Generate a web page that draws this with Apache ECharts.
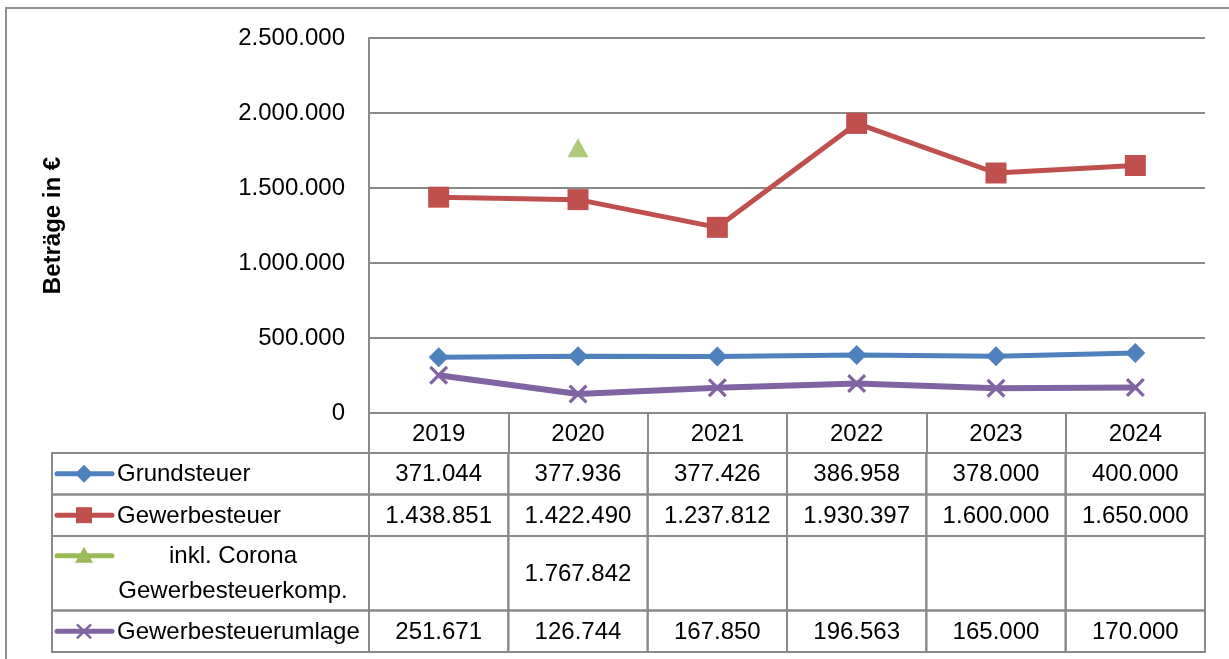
<!DOCTYPE html>
<html>
<head>
<meta charset="utf-8">
<script src="https://cdn.jsdelivr.net/npm/echarts@6/dist/echarts.min.js"></script>
<style>
  html, body { margin: 0; padding: 0; background: #fff; }
  #chart { width: 1229px; height: 659px; position: relative; }
  #frame { position: absolute; left: 5px; top: 7px; width: 1300px; height: 700px;
           border-top: 2px solid #8e8e8e; border-left: 2px solid #8e8e8e; pointer-events: none; }
</style>
</head>
<body>
<div id="chart"></div>
<div id="frame"></div>
<script>
// ---- data ----
const years = ['2019', '2020', '2021', '2022', '2023', '2024'];
const grundsteuer = [371044, 377936, 377426, 386958, 378000, 400000];
const gewerbesteuer = [1438851, 1422490, 1237812, 1930397, 1600000, 1650000];
const corona = [null, 1767842, null, null, null, null];
const umlage = [251671, 126744, 167850, 196563, 165000, 170000];
const yTickMin = 0, yTickMax = 2500000, yTickStep = 500000;
const seriesNames = ['Grundsteuer', 'Gewerbesteuer', 'inkl. Corona\nGewerbesteuerkomp.', 'Gewerbesteuerumlage'];
const yTitle = 'Beträge in €';

// ---- styles ----
const colors = ['#4F81BD', '#C0504D', '#9BBB59', '#8064A2'];
const gridCol = '#8a8a8a';
const FONT = '"Liberation Sans", Arial, sans-serif';
const FS = 24;
const rowSpan = [1, 1, 1.8, 1];
const rowStart = rowSpan.map((s, i) => rowSpan.slice(0, i).reduce((a, b) => a + b, 0));
const rowTotal = rowSpan.reduce((a, b) => a + b, 0);
const xPath = 'path://M0,1.2 L1.2,0 L5,3.8 L8.8,0 L10,1.2 L6.2,5 L10,8.8 L8.8,10 L5,6.2 L1.2,10 L0,8.8 L3.8,5 Z';

function fmt(v) {
  if (v === null || v === undefined) return '';
  return String(v).replace(/\B(?=(\d{3})+(?!\d))/g, '.');
}

const seriesValues = [grundsteuer, gewerbesteuer, corona, umlage];
const cells = [];
seriesValues.forEach((vals, r) => {
  vals.forEach((v, c) => cells.push({ value: [c, r], text: fmt(v) }));
});
const labelCells = seriesNames.map((n, r) => ({ value: [0, r], text: n }));

function markerShape(r, cx, cy, color) {
  const s = 9;
  if (r === 0) return { type: 'polygon', shape: { points: [[cx, cy - s], [cx + s, cy], [cx, cy + s], [cx - s, cy]] }, style: { fill: color } };
  if (r === 1) return { type: 'rect', shape: { x: cx - 8, y: cy - 8, width: 16, height: 16 }, style: { fill: color } };
  if (r === 2) return { type: 'polygon', shape: { points: [[cx, cy - 9], [cx + 9, cy + 7], [cx - 9, cy + 7]] }, style: { fill: color } };
  return { type: 'group', children: [
    { type: 'line', shape: { x1: cx - 7, y1: cy - 7, x2: cx + 7, y2: cy + 7 }, style: { stroke: color, lineWidth: 2.5 } },
    { type: 'line', shape: { x1: cx - 7, y1: cy + 7, x2: cx + 7, y2: cy - 7 }, style: { stroke: color, lineWidth: 2.5 } }
  ] };
}

const chart = echarts.init(document.getElementById('chart'));
chart.setOption({
  animation: false,
  backgroundColor: '#fff',
  textStyle: { fontFamily: FONT },
  grid: [
    { left: 369, right: 24, top: 38, bottom: 246 },
    { left: 369, right: 24, top: 453, bottom: 7 },
    { left: 52, width: 317, top: 453, bottom: 7 }
  ],
  xAxis: [
    {
      type: 'category', data: years, gridIndex: 0, boundaryGap: true,
      axisLine: { show: true, lineStyle: { color: gridCol, width: 2 } },
      axisTick: { show: true, interval: 0, length: 40, lineStyle: { color: gridCol, width: 2 } },
      axisLabel: { color: '#000', fontSize: FS, fontFamily: FONT, margin: 9, interval: 0 }
    },
    { type: 'category', data: years, gridIndex: 1, show: false },
    { type: 'value', min: 0, max: 1, gridIndex: 2, show: false }
  ],
  yAxis: [
    {
      type: 'value', gridIndex: 0, min: yTickMin, max: yTickMax, interval: yTickStep,
      name: yTitle, nameLocation: 'middle', nameGap: 304, nameRotate: 90,
      nameTextStyle: { color: '#000', fontSize: 24, fontWeight: 'bold', fontFamily: FONT },
      axisLine: { show: true, lineStyle: { color: gridCol, width: 2 } },
      axisTick: { show: false },
      axisLabel: { color: '#000', fontSize: FS, fontFamily: FONT, margin: 24, formatter: v => fmt(v) },
      splitLine: { show: true, lineStyle: { color: gridCol, width: 2 } }
    },
    { type: 'value', gridIndex: 1, min: 0, max: rowTotal, inverse: true, show: false },
    { type: 'value', gridIndex: 2, min: 0, max: rowTotal, inverse: true, show: false }
  ],
  series: [
    {
      name: 'Grundsteuer', type: 'line', data: grundsteuer, xAxisIndex: 0, yAxisIndex: 0,
      symbol: 'diamond', symbolSize: 20, itemStyle: { color: colors[0] },
      lineStyle: { color: colors[0], width: 5 }, z: 3
    },
    {
      name: 'Gewerbesteuer', type: 'line', data: gewerbesteuer, xAxisIndex: 0, yAxisIndex: 0,
      symbol: 'rect', symbolSize: 21, itemStyle: { color: colors[1] },
      lineStyle: { color: colors[1], width: 5 }, z: 3
    },
    {
      name: 'inkl. Corona Gewerbesteuerkomp.', type: 'scatter', data: corona, xAxisIndex: 0, yAxisIndex: 0,
      symbol: 'triangle', symbolSize: [21, 19], itemStyle: { color: colors[2] }, z: 3
    },
    {
      name: 'Gewerbesteuerumlage', type: 'line', data: umlage, xAxisIndex: 0, yAxisIndex: 0,
      symbol: xPath, symbolSize: 19, itemStyle: { color: colors[3] },
      lineStyle: { color: colors[3], width: 6 }, z: 3
    },
    {
      type: 'custom', xAxisIndex: 1, yAxisIndex: 1, data: cells, silent: true,
      renderItem: function (params, api) {
        const c = api.value(0), r = api.value(1);
        const p0 = api.coord([c, rowStart[r]]);
        const p1 = api.coord([c, rowStart[r] + rowSpan[r]]);
        const w = api.size([1, 0])[0];
        const x = p0[0] - w / 2, y = p0[1], h = p1[1] - p0[1];
        return { type: 'group', children: [
          { type: 'rect', shape: { x: x, y: y, width: w, height: h }, style: { fill: 'none', stroke: gridCol, lineWidth: 2 } },
          { type: 'text', x: p0[0], y: y + h / 2 + 1, style: { text: cells[params.dataIndex].text, fill: '#000', font: FS + 'px ' + FONT, align: 'center', verticalAlign: 'middle' } }
        ] };
      }
    },
    {
      type: 'custom', xAxisIndex: 2, yAxisIndex: 2, data: labelCells, silent: true,
      renderItem: function (params, api) {
        const r = api.value(1);
        const p0 = api.coord([0, rowStart[r]]);
        const p1 = api.coord([1, rowStart[r] + rowSpan[r]]);
        const x = p0[0], y = p0[1], w = p1[0] - p0[0], h = p1[1] - p0[1];
        const multi = labelCells[params.dataIndex].text.indexOf('\n') >= 0;
        const lh = 35;
        const lineY = multi ? y + h / 2 - lh / 2 : y + h / 2;
        const col = colors[r];
        const children = [
          { type: 'rect', shape: { x: x, y: y, width: w, height: h }, style: { fill: 'none', stroke: gridCol, lineWidth: 2 } },
          { type: 'line', shape: { x1: x + 5, y1: lineY, x2: x + 60, y2: lineY }, style: { stroke: col, lineWidth: 5, lineCap: 'round' } },
          markerShape(r, x + 32, lineY, col),
          { type: 'text', x: multi ? x + 181 : x + 65, y: y + h / 2 + 1,
            style: { text: labelCells[params.dataIndex].text, fill: '#000', font: FS + 'px ' + FONT,
                     align: multi ? 'center' : 'left', verticalAlign: 'middle', lineHeight: lh } }
        ];
        return { type: 'group', children: children };
      }
    }
  ]
});
</script>
</body>
</html>
